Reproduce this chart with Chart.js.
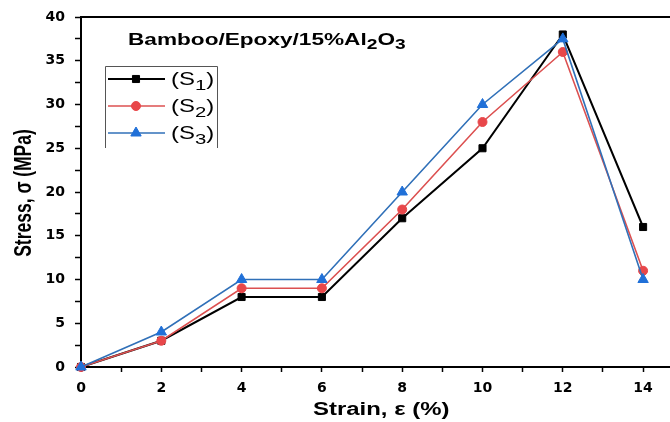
<!DOCTYPE html>
<html><head><meta charset="utf-8">
<script src="https://cdn.jsdelivr.net/npm/chart.js@4/dist/chart.umd.min.js"></script>
<style>html,body{margin:0;padding:0;background:#fff}#wrap{width:670px;height:422px;position:relative}</style>
</head><body><div id="wrap"><canvas id="c" width="670" height="422"></canvas></div>
<script>
const strain = [0, 2, 4, 6, 8, 10, 12, 14];
const s1 = [0, 3, 8, 8, 17, 25, 38, 16];
const s2 = [0, 3, 9, 9, 18, 28, 36, 11];
const s3 = [0, 4, 10, 10, 20, 30, 37.5, 10];
const seriesNames = ['(S1)', '(S2)', '(S3)'];
const chartTitle = 'Bamboo/Epoxy/15%Al2O3';
const xTitle = 'Strain, \u03b5 (%)';
const yTitle = 'Stress, \u03c3 (MPa)';
const xTicks = [0,1,2,3,4,5,6,7,8,9,10,11,12,13,14];
const yTicks = [0,2.5,5,7.5,10,12.5,15,17.5,20,22.5,25,27.5,30,32.5,35,37.5,40];

const FONT = "'DejaVu Sans', Arial, sans-serif";
const AR = "'Liberation Sans', Arial, sans-serif";
const SX = 1.33;
const styles = [
  {line:'#000000', fill:'#000000', pt:'rect', r:5, w:2},
  {line:'#dc5050', fill:'#e8474a', pt:'circle', r:4.5, w:1.6},
  {line:'#3070b8', fill:'#2070d8', pt:'triangle', r:6, w:1.6}
];
const series = [s1, s2, s3];

function drawRich(ctx, text, x, y, size, weight, subs) {
  ctx.save();
  ctx.translate(x, y);
  ctx.scale(SX, 1);
  ctx.textBaseline = 'alphabetic';
  let cx = 0;
  for (let i = 0; i < text.length; i++) {
    const isSub = subs && subs.includes(i);
    const fs = isSub ? size * 0.85 : size;
    ctx.font = weight + ' ' + fs + 'px ' + AR;
    ctx.fillText(text[i], cx, isSub ? size * 0.25 : 0);
    cx += ctx.measureText(text[i]).width;
  }
  ctx.restore();
}

const frame = {
  id:'frame',
  afterDraw(chart){
    const ctx = chart.ctx, a = chart.chartArea;
    ctx.save();
    ctx.strokeStyle = '#000'; ctx.lineWidth = 2;
    ctx.beginPath(); ctx.moveTo(a.left - 1, a.top); ctx.lineTo(670, a.top); ctx.stroke();
    ctx.fillStyle = '#000';
    drawRich(ctx, chartTitle, 128, 45, 17, 'bold', [18, 20]);
    // x axis title
    ctx.save();
    ctx.font = 'bold 18px ' + AR;
    ctx.translate(313, 415);
    ctx.scale(SX, 1);
    ctx.textBaseline = 'alphabetic';
    ctx.fillText(xTitle, 0, 0);
    ctx.restore();
    // y axis title
    ctx.save();
    ctx.font = 'bold 17.5px ' + AR;
    ctx.translate(31, 193);
    ctx.scale(SX, 1);
    ctx.rotate(-Math.PI / 2);
    ctx.textAlign = 'center';
    ctx.textBaseline = 'alphabetic';
    ctx.fillText(yTitle, 0, 0);
    ctx.restore();
    // legend
    ctx.lineWidth = 1; ctx.strokeStyle = '#555';
    ctx.beginPath(); ctx.moveTo(105.5, 148); ctx.lineTo(105.5, 66.5); ctx.lineTo(217.5, 66.5); ctx.lineTo(217.5, 148); ctx.stroke();
    const rows = [79, 106, 133];
    chart.data.datasets.forEach((ds, i) => {
      const y = rows[i], st = styles[i];
      ctx.strokeStyle = st.line; ctx.lineWidth = st.w;
      ctx.beginPath(); ctx.moveTo(108, y); ctx.lineTo(165, y); ctx.stroke();
      ctx.fillStyle = st.fill; ctx.strokeStyle = st.fill; ctx.lineWidth = 1;
      Chart.helpers.drawPoint(ctx, {pointStyle: st.pt, radius: st.r, borderWidth: 1, rotation: 0}, 136, y);
      ctx.fillStyle = '#000';
      drawRich(ctx, seriesNames[i], 171, y + 6, 18, 'normal', [2]);
    });
    ctx.restore();
  }
};

new Chart(document.getElementById('c'), {
  type: 'line',
  data: {
    datasets: series.map((s, i) => ({
      label: seriesNames[i],
      data: strain.map((x, j) => ({x: x, y: s[j]})),
      borderColor: styles[i].line,
      backgroundColor: styles[i].fill,
      pointBackgroundColor: styles[i].fill,
      pointBorderColor: styles[i].fill,
      pointBorderWidth: 1,
      pointStyle: styles[i].pt,
      pointRadius: styles[i].r,
      pointHoverRadius: styles[i].r,
      borderWidth: styles[i].w,
      tension: 0,
      order: 2 - i,
      clip: false
    }))
  },
  options: {
    responsive: false,
    animation: false,
    events: [],
    layout: {autoPadding: false, padding: {top: 17, right: 0, left: 0, bottom: 0}},
    plugins: {legend: {display: false}, tooltip: {enabled: false}},
    scales: {
      x: {
        type: 'linear', min: 0, max: 14.67,
        afterBuildTicks: s => { s.ticks = xTicks.map(v => ({value: v})); },
        afterFit: s => { s.height = 55; s.paddingRight = 0; s.paddingLeft = 0; },
        border: {display: true, color: '#000', width: 2},
        grid: {display: true, drawOnChartArea: false, drawTicks: true, tickLength: 5, color: '#000', tickWidth: 1.5},
        ticks: {
          autoSkip: false, maxRotation: 0, padding: 8, color: '#000',
          font: {family: FONT, size: 14, weight: 'bold'},
          callback: v => (v % 2 === 0 ? String(v) : '')
        },
        title: {display: false, text: xTitle}
      },
      y: {
        type: 'linear', min: 0, max: 40,
        afterBuildTicks: s => { s.ticks = yTicks.map(v => ({value: v})); },
        afterFit: s => { s.width = 81; s.paddingTop = 0; s.paddingBottom = 0; },
        border: {display: true, color: '#000', width: 2},
        grid: {display: true, drawOnChartArea: false, drawTicks: true, tickLength: 6, color: '#000', tickWidth: 1.5},
        ticks: {
          autoSkip: false, padding: 10, color: '#000',
          font: {family: FONT, size: 14, weight: 'bold'},
          callback: v => (v % 5 === 0 ? String(v) : '')
        },
        title: {display: false, text: yTitle}
      }
    }
  },
  plugins: [frame]
});
</script></body></html>
